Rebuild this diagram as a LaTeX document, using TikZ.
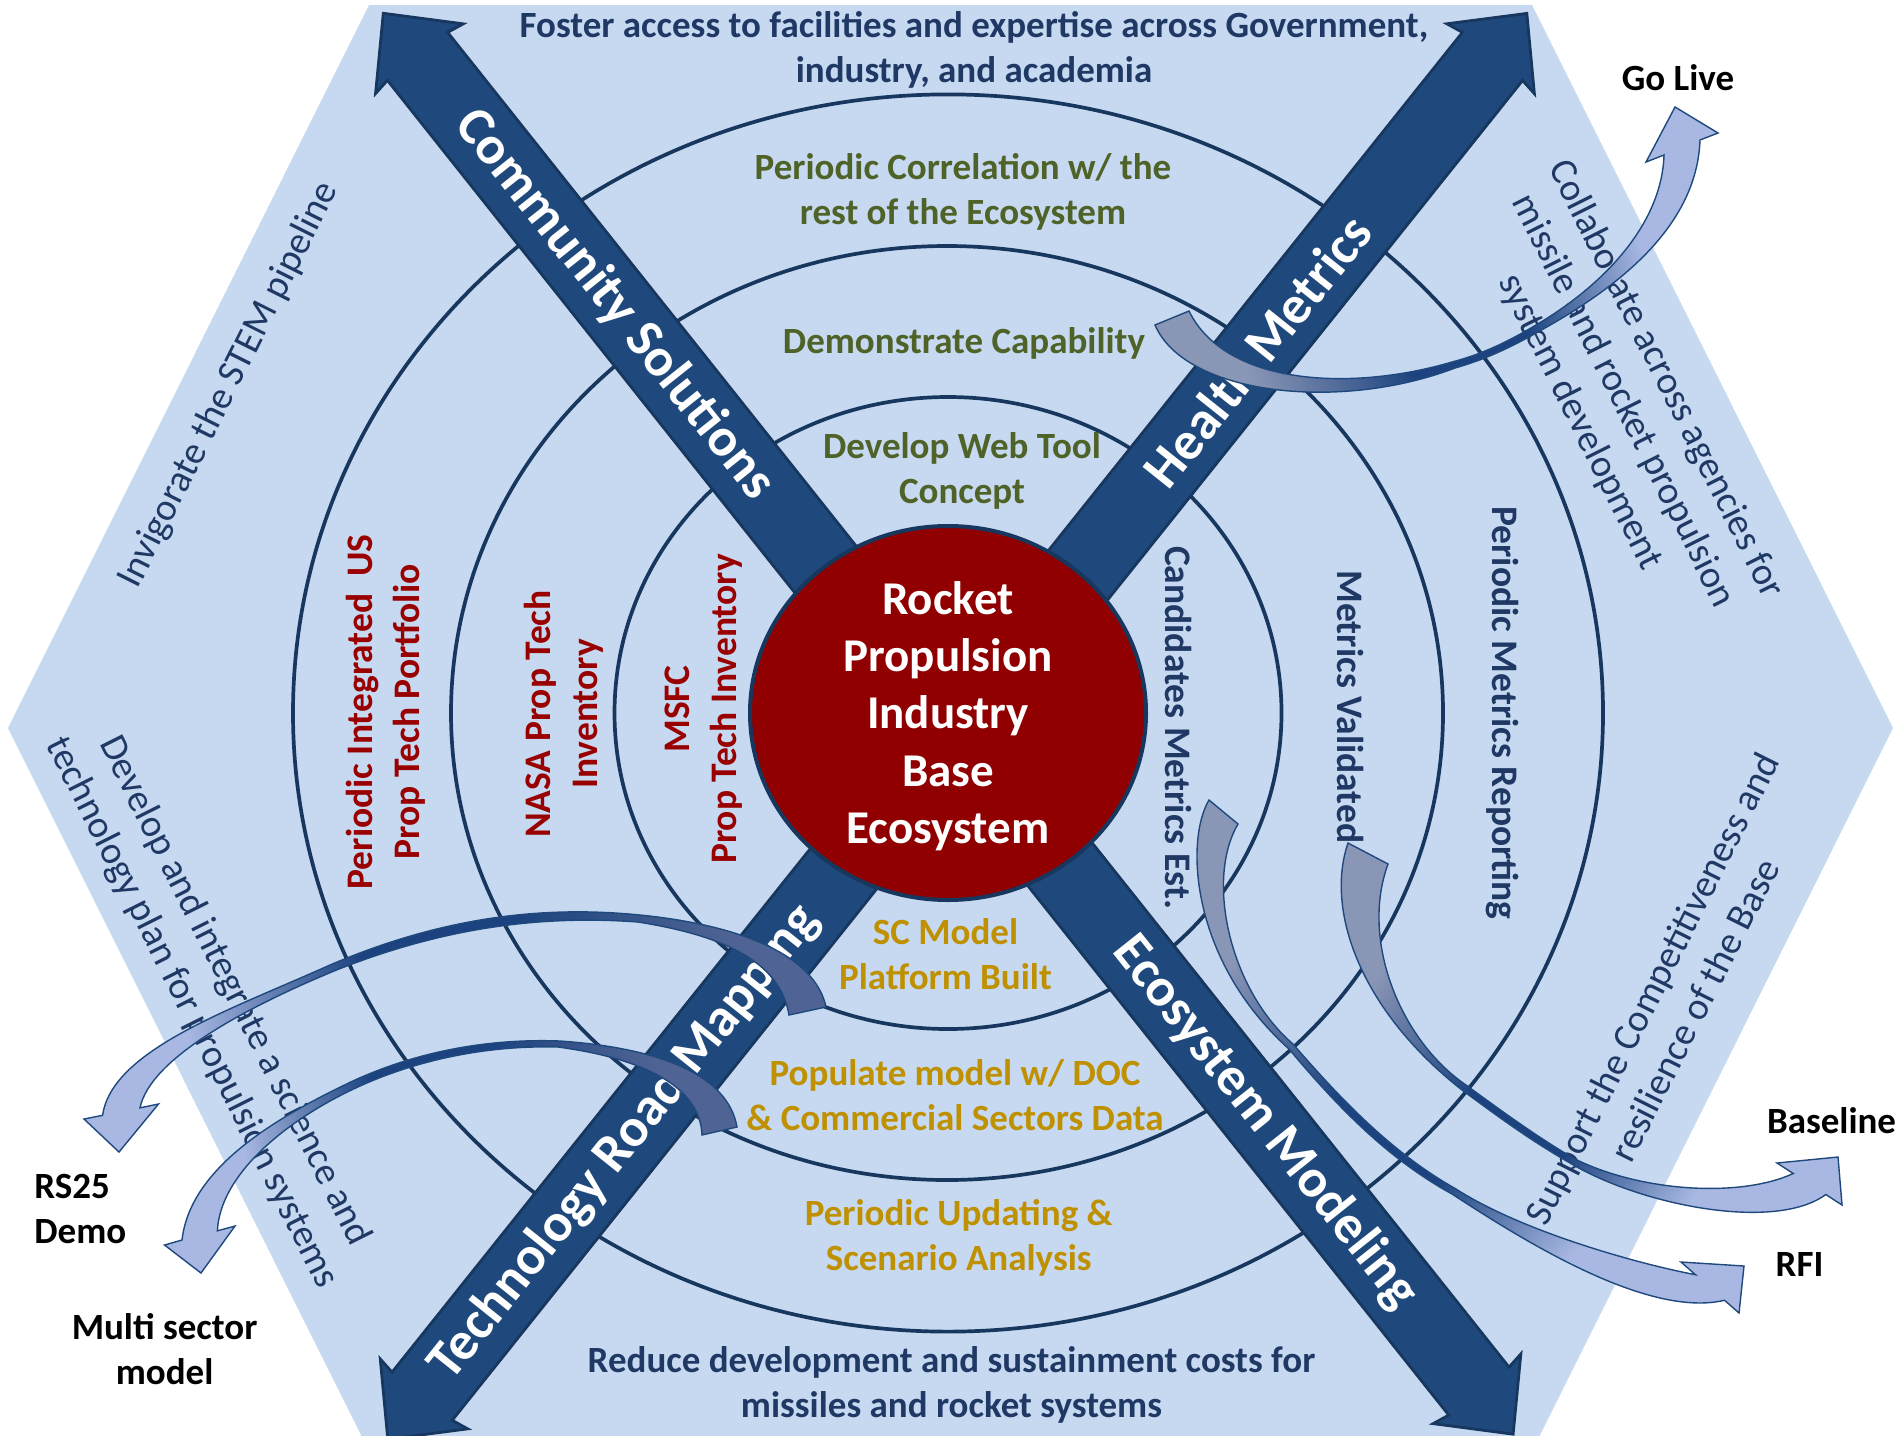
\documentclass[tikz,border=0pt]{standalone}
\usepackage{fontspec}
\setmainfont{Carlito}
\definecolor{hexfill}{HTML}{C6D9F1}
\definecolor{ringc}{HTML}{17375E}
\definecolor{arrfill}{HTML}{1F497D}
\definecolor{arrdraw}{HTML}{17375E}
\definecolor{navyt}{HTML}{1F3864}
\definecolor{greent}{HTML}{4F6228}
\definecolor{goldt}{HTML}{BF9000}
\definecolor{redt}{HTML}{990000}
\definecolor{redfill}{HTML}{900000}
\definecolor{tailc}{HTML}{8A96B6}
\definecolor{tailcc}{HTML}{4F6494}
\definecolor{neckc}{HTML}{1C437F}
\definecolor{headc}{HTML}{A8B8E2}
\pgfdeclareverticalshading{cvA}{100bp}{color(0bp)=(headc); color(30bp)=(headc); color(44bp)=(neckc); color(56bp)=(neckc); color(72bp)=(tailc); color(100bp)=(tailc)}
\pgfdeclareverticalshading{cvB}{100bp}{color(0bp)=(headc); color(30bp)=(headc); color(44bp)=(neckc); color(56bp)=(neckc); color(72bp)=(tailcc); color(100bp)=(tailcc)}
\begin{document}
\begin{tikzpicture}[x=0.5pt,y=0.5pt,
  ring/.style={draw=ringc,line width=1.85pt},
  bigarrow/.style={fill=arrfill,draw=arrdraw,line width=1.4pt,line join=miter},
  curvy/.style={draw=arrfill,line width=0.7pt,line join=miter,shade},
  base/.style={inner sep=0pt,align=center},
  stdtxt/.style={base,font=\fontsize{18.5}{22.5}\selectfont\bfseries},
  sidetxt/.style={base,font=\fontsize{19.25}{24}\selectfont,text=navyt},
  rottxt/.style={base,font=\fontsize{18.75}{23.5}\selectfont\bfseries},
  armtxt/.style={base,font=\fontsize{27}{32}\selectfont\bfseries,text=white},
  centertxt/.style={base,font=\fontsize{23.5}{28.6}\selectfont\bfseries,text=white},
  lbltxt/.style={stdtxt,text=black}]
\useasboundingbox (0,0) rectangle (1898,-1435);
\clip (0,0) rectangle (1898,-1435);
% hexagon
\fill[hexfill] (369,-5) -- (1532,-5) -- (1893,-728) -- (1532,-1451) -- (369,-1451) -- (8,-728) -- cycle;
% rings
\draw[ring] (948,-713) ellipse [x radius=655, y radius=618.6];
\draw[ring] (947,-713) ellipse [x radius=496, y radius=467];
\draw[ring] (948,-713) ellipse [x radius=333.5, y radius=316];
% big double arrows
\begin{scope}[shift={(383.3,-13.3)},rotate=-51.51]
\draw[bigarrow] (0,0) -- (58,56) -- (55,38.5) -- (1760.4,38.5) -- (1757.4,56) -- (1815.4,0) -- (1757.4,-56) -- (1760.4,-38.5) -- (55,-38.5) -- (58,-56) -- cycle;
\end{scope}
\begin{scope}[shift={(387.8,-1439.2)},rotate=51.38]
\draw[bigarrow] (0,0) -- (58,56) -- (55,38.5) -- (1770,38.5) -- (1767,56) -- (1825,0) -- (1767,-56) -- (1770,-38.5) -- (55,-38.5) -- (58,-56) -- cycle;
\end{scope}
% centre
\draw[fill=redfill,draw=ringc,line width=2pt] (948,-713) ellipse [x radius=198, y radius=187];
\node[centertxt] (core) at (948,-716) {Rocket\\Propulsion\\Industry\\Base\\Ecosystem};
% arrow labels
\node[armtxt,rotate=-51.51] (cs) at (614.7,-304.3) {Community Solutions};
\node[armtxt,rotate=-51.51] (em) at (1265.3,-1122.5) {Ecosystem Modeling};
\node[armtxt,rotate=51.38] (hm) at (1257.3,-351) {Health Metrics};
\node[armtxt,rotate=51.38] (trm) at (624.8,-1142.7) {Technology Road Mapping};
% horizontal texts
\node[stdtxt,text=navyt] (foster) at (974,-50) {Foster access to facilities and expertise across Government,\\industry, and academia};
\node[stdtxt,text=greent] (pcorr) at (963,-192) {Periodic Correlation w/ the\\rest of the Ecosystem};
\node[stdtxt,text=greent] (demo) at (964,-343) {Demonstrate Capability};
\node[stdtxt,text=greent] (web) at (962,-471) {Develop Web Tool\\Concept};
\node[stdtxt,text=goldt] (scm) at (945.5,-954) {SC Model\\Platform Built};
\node[stdtxt,text=goldt] (pop) at (955,-1095.5) {Populate model w/ DOC\\\& Commercial Sectors Data};
\node[stdtxt,text=goldt] (upd) at (958.7,-1238.3) {Periodic Updating \&\\Scenario Analysis};
\node[stdtxt,text=navyt] (reduce) at (951.5,-1385.4) {Reduce development and sustainment costs for\\missiles and rocket systems};
% vertical texts
\node[rottxt,text=redt,rotate=90] (pitp) at (386,-712) {Periodic Integrated\ \ US\\Prop Tech Portfolio};
\node[rottxt,text=redt,rotate=90] (nasa) at (563.4,-714) {NASA Prop Tech\\Inventory};
\node[rottxt,text=redt,rotate=90] (msfc) at (704,-709) {MSFC\\Prop Tech Inventory};
\node[rottxt,text=navyt,rotate=-90] (cand) at (1178.5,-727.5) {Candidates Metrics Est.};
\node[rottxt,text=navyt,rotate=-90] (mval) at (1350,-707) {Metrics Validated};
\node[rottxt,text=navyt,rotate=-90] (pmr) at (1502,-713) {Periodic Metrics Reporting};
% hexagon side texts
\node[sidetxt,rotate=63.4] (invig) at (229,-385) {Invigorate the STEM pipeline};
\node[sidetxt,rotate=-63.4] (devel) at (212.8,-1002) {Develop and integrate a science and\\technology plan for propulsion systems};
\node[sidetxt,rotate=-63.4] (collab) at (1623,-401) {Collaborate across agencies for\\missile and rocket propulsion\\system development};
\node[sidetxt,rotate=63.4] (support) at (1673,-999) {Support the Competitiveness and\\resilience of the Base};
% outside labels
\node[lbltxt] (golive) at (1678,-78) {Go Live};
\node[lbltxt] (baseline) at (1831.5,-1121) {Baseline};
\node[lbltxt] (rfi) at (1799.5,-1264) {RFI};
\node[lbltxt,anchor=west,align=left] (rs25) at (34,-1208.5) {RS25\\Demo};
\node[lbltxt] (multi) at (164.6,-1349) {Multi sector\\model};
% curved arrows
% Go Live
\path[curvy,shading=cvA,shading angle=110]
 (1155,-325) .. controls (1185,-395) and (1340,-412) .. (1455,-368)
 .. controls (1490,-358) and (1515,-345) .. (1545,-328)
 .. controls (1630,-280) and (1697,-220) .. (1700,-140)
 -- (1718,-133) -- (1675,-107) -- (1646,-162) -- (1664,-155)
 .. controls (1662,-220) and (1610,-280) .. (1541,-322)
 .. controls (1511,-340) and (1486,-353) .. (1452,-362)
 .. controls (1350,-392) and (1225,-385) .. (1189,-311) -- cycle;
% RS25
\path[curvy,shading=cvB,shading angle=-80]
 (826,-1007) .. controls (815,-955) and (740,-925) .. (640,-915)
 .. controls (540,-905) and (440,-918) .. (330,-965)
 .. controls (230,-1010) and (112,-1050) .. (102.6,-1115.3)
 -- (84,-1119) -- (119,-1152) -- (158.5,-1104) -- (140,-1107.8)
 .. controls (150,-1060) and (240,-1010) .. (334,-971)
 .. controls (444,-927) and (542,-915) .. (638,-922)
 .. controls (720,-935) and (780,-960) .. (789,-1015) -- cycle;
% Multi sector
\path[curvy,shading=cvB,shading angle=-77]
 (737,-1127) .. controls (728,-1075) and (660,-1048) .. (560,-1041)
 .. controls (480,-1038) and (410,-1055) .. (355,-1080)
 .. controls (270,-1120) and (190,-1170) .. (182,-1240)
 -- (164.5,-1245) -- (201,-1273) -- (235,-1226) -- (217.4,-1230.8)
 .. controls (220,-1175) and (285,-1120) .. (360,-1086)
 .. controls (413,-1062) and (482,-1045) .. (558,-1047)
 .. controls (640,-1058) and (700,-1085) .. (702,-1135) -- cycle;
% Baseline
\path[curvy,shading=cvA,shading angle=53]
 (1348,-843) .. controls (1325,-910) and (1360,-1010) .. (1462,-1090)
 .. controls (1500,-1118) and (1530,-1140) .. (1570,-1163)
 .. controls (1640,-1205) and (1775,-1232) .. (1825.75,-1194.5)
 -- (1842,-1205) -- (1838,-1157) -- (1777,-1163) -- (1793.25,-1173.5)
 .. controls (1740,-1198) and (1640,-1192) .. (1573,-1158)
 .. controls (1533,-1134) and (1503,-1112) .. (1466,-1085)
 .. controls (1400,-1040) and (1360,-940) .. (1388,-864) -- cycle;
% RFI
\path[curvy,shading=cvA,shading angle=46]
 (1209,-800) .. controls (1185,-840) and (1190,-960) .. (1289,-1049)
 .. controls (1340,-1110) and (1390,-1160) .. (1452,-1194)
 .. controls (1530,-1245) and (1650,-1318) .. (1724.5,-1300.25)
 -- (1739,-1313) -- (1744,-1266) -- (1681,-1262) -- (1695.5,-1274.75)
 .. controls (1630,-1262) and (1520,-1230) .. (1456,-1189)
 .. controls (1394,-1154) and (1344,-1103) .. (1293,-1044)
 .. controls (1230,-990) and (1205,-880) .. (1238,-824) -- cycle;
\end{tikzpicture}
\end{document}
